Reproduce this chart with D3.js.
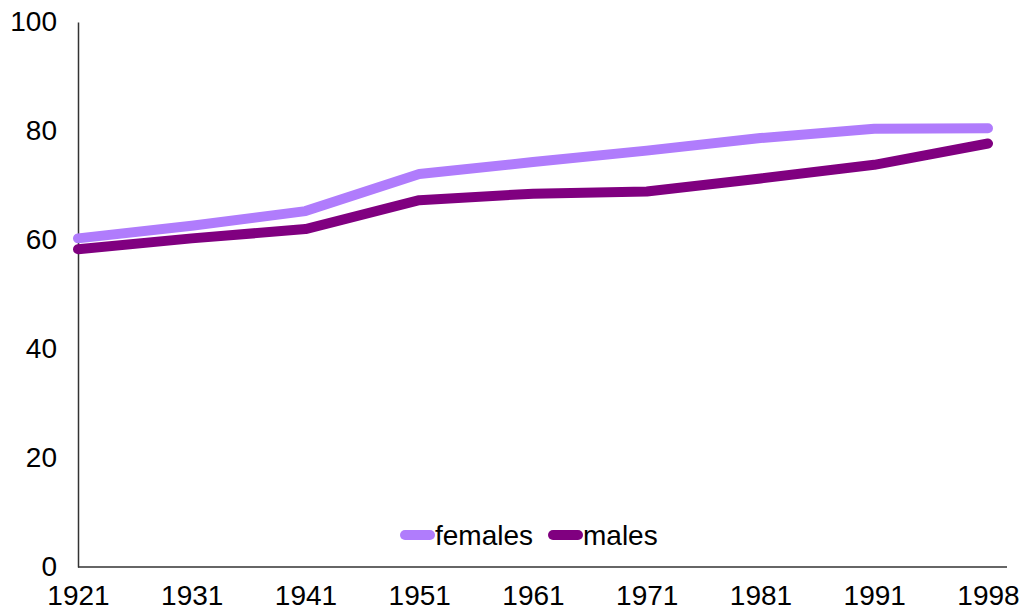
<!DOCTYPE html>
<html>
<head>
<meta charset="utf-8">
<script src="https://cdn.jsdelivr.net/npm/d3@7"></script>
<style>
  body { margin: 0; background: #fff; }
  svg text { font-family: "Liberation Sans", Arial, sans-serif; fill: #000; }
</style>
</head>
<body>
<svg id="chart" width="1024" height="612"></svg>
<script>
const years = ["1921", "1931", "1941", "1951", "1961", "1971", "1981", "1991", "1998"];
const females = [60.3, 62.6, 65.3, 72.1, 74.3, 76.4, 78.7, 80.4, 80.5];
const males = [58.3, 60.3, 62.0, 67.3, 68.5, 68.9, 71.3, 73.8, 77.7];
const yTicks = [0, 20, 40, 60, 80, 100];

const series = [
    { name: "females", values: females, color: "#b07cfc" },
    { name: "males", values: males, color: "#800080" }
];

const svg = d3.select("#chart");
const margin = { top: 22, right: 36, bottom: 45, left: 78 };
const width = +svg.attr("width");
const height = +svg.attr("height");

const x = d3.scalePoint().domain(years).range([margin.left, 988]);
const y = d3.scaleLinear().domain([0, 100]).range([height - margin.bottom, margin.top]);

// y axis
const yAxis = svg.append("g")
    .attr("transform", `translate(${margin.left},0)`)
    .call(d3.axisLeft(y).tickValues(yTicks).tickSize(0).tickPadding(21));
yAxis.select(".domain").attr("stroke", "#333").attr("stroke-width", 1.5);
yAxis.selectAll("text").style("font-size", "28px");

// x axis
const xAxis = svg.append("g")
    .attr("transform", `translate(0,${y(0)})`)
    .call(d3.axisBottom(x).tickSize(0).tickPadding(18));
xAxis.select(".domain").remove();
xAxis.append("line")
    .attr("x1", margin.left).attr("x2", width - margin.right + 19)
    .attr("stroke", "#333").attr("stroke-width", 1.5);
xAxis.selectAll("text").style("font-size", "28px");

const line = d3.line()
    .x((d, i) => x(years[i]))
    .y(d => y(d));

svg.selectAll(".series")
    .data(series)
    .enter()
    .append("path")
    .attr("class", "series")
    .attr("fill", "none")
    .attr("stroke", d => d.color)
    .attr("stroke-width", 10)
    .attr("stroke-linecap", "round")
    .attr("stroke-linejoin", "round")
    .attr("d", d => line(d.values));

// legend
const legend = svg.append("g").attr("transform", "translate(405,535)");
const items = legend.selectAll(".item")
    .data(series)
    .enter()
    .append("g")
    .attr("class", "item")
    .attr("transform", (d, i) => `translate(${i * 148},0)`);
items.append("line")
    .attr("x1", 0).attr("x2", 25)
    .attr("stroke", d => d.color)
    .attr("stroke-width", 10)
    .attr("stroke-linecap", "round");
items.append("text")
    .attr("x", 30)
    .attr("dy", "0.35em")
    .style("font-size", "28px")
    .text(d => d.name);
</script>
</body>
</html>
